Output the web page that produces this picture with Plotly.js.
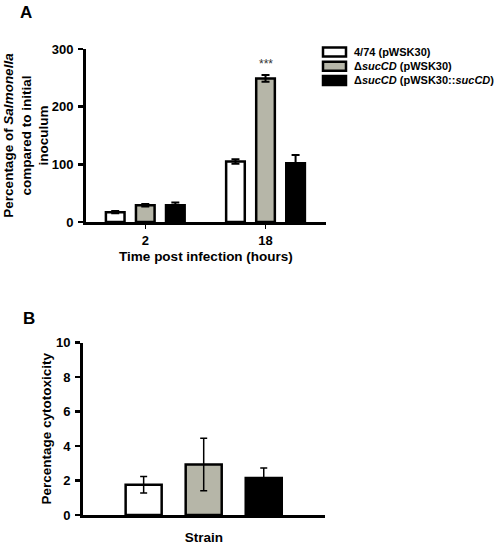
<!DOCTYPE html>
<html><head><meta charset="utf-8">
<script src="https://cdn.plot.ly/plotly-3.0.1.min.js"></script>
<style>html,body{margin:0;padding:0;background:#fff}#chart{width:498px;height:545px}</style>
</head><body><div id="chart"></div>
<script>
// Panel A data
const timePoints = ['2', '18'];
const strainNames = ['4/74 (pWSK30)', 'Δ<i>sucCD</i> (pWSK30)', 'Δ<i>sucCD</i> (pWSK30::<i>sucCD</i>)'];
const strainColors = ['#ffffff', '#b6b6a8', '#000000'];
const wtValues = [17, 105];
const wtErrors = [2, 4];
const mutValues = [29, 249];
const mutErrors = [2, 6];
const compValues = [29, 102];
const compErrors = [5, 14];
// Panel B data
const cytoValues = [1.76, 2.93, 2.15];
const cytoErrors = [0.48, 1.52, 0.58];

const FONT = 'Liberation Sans, Arial, sans-serif';
const seriesA = [[wtValues, wtErrors], [mutValues, mutErrors], [compValues, compErrors]];

const traces = seriesA.map((s, i) => ({
  type: 'bar', x: timePoints, y: s[0], name: strainNames[i],
  xaxis: 'x', yaxis: 'y', showlegend: false,
  marker: {color: strainColors[i], line: {color: '#000', width: 2.5}},
  error_y: {type: 'data', array: s[1], visible: true, color: '#000', thickness: 2, width: 4}
}));

traces.push({
  type: 'bar', x: strainNames, y: cytoValues, xaxis: 'x2', yaxis: 'y2',
  showlegend: false, width: 0.6,
  marker: {color: strainColors, line: {color: '#000', width: 2.5}},
  error_y: {type: 'data', array: cytoErrors, visible: true, color: '#000', thickness: 1.5, width: 3.5}
});

const W = 498, H = 545;
const axCommon = {
  showline: true, linecolor: '#000', linewidth: 3, showgrid: false, zeroline: false,
  ticks: 'outside', tickcolor: '#000', automargin: false,
  tickfont: {family: FONT, size: 13, color: '#000', weight: 'bold'}
};
const titleFont = {family: FONT, size: 13.5, color: '#000', weight: 'bold'};

// Legend (key swatches + labels, built from the strain arrays)
const legShapes = [], legAnn = [];
strainNames.forEach((nm, i) => {
  const yc = 52 + i * 14.2;
  legShapes.push({type: 'rect', xref: 'paper', yref: 'paper',
    x0: 323 / W, x1: 346 / W, y0: 1 - (yc + 4.5) / H, y1: 1 - (yc - 4.5) / H,
    fillcolor: strainColors[i], line: {color: '#000', width: 2.5}});
  legAnn.push({text: nm, xref: 'paper', yref: 'paper', x: 352 / W, y: 1 - yc / H,
    xanchor: 'left', yanchor: 'middle', showarrow: false,
    font: {family: FONT, size: 11, color: '#000', weight: 'bold'}});
});

const layout = {
  width: W, height: H,
  margin: {l: 0, r: 0, t: 0, b: 0},
  paper_bgcolor: '#fff', plot_bgcolor: '#fff',
  barmode: 'group', bargap: 0.25, bargroupgap: 0.38,
  font: {family: FONT, color: '#000'},
  showlegend: false,
  xaxis: Object.assign({}, axCommon, {
    domain: [86 / W, 326 / W], range: [-0.493, 1.503], type: 'category',
    ticklen: 4, tickwidth: 1, anchor: 'y',
    title: {text: 'Time post infection (hours)', font: titleFont, standoff: 5}
  }),
  yaxis: Object.assign({}, axCommon, {
    domain: [1 - 222 / H, 1 - 49 / H], range: [0, 300], tickvals: [0, 100, 200, 300],
    ticklen: 5, tickwidth: 2.5, anchor: 'x', ticklabelstandoff: 2,
    title: {text: 'Percentage of <i>Salmonella</i><br>compared to initial<br>inoculum', font: titleFont, standoff: 0}
  }),
  xaxis2: Object.assign({}, axCommon, {
    domain: [83 / W, 325 / W], range: [-1.01, 3.02], type: 'category',
    ticks: '', showticklabels: false, anchor: 'y2',
    title: {text: 'Strain', font: titleFont, standoff: 18}
  }),
  yaxis2: Object.assign({}, axCommon, {
    domain: [1 - 515 / H, 1 - 342.7 / H], range: [0, 10], tickvals: [0, 2, 4, 6, 8, 10],
    ticklen: 5, tickwidth: 2.5, anchor: 'x2', ticklabelstandoff: 2,
    title: {text: 'Percentage cytotoxicity', font: titleFont, standoff: 2}
  }),
  shapes: legShapes,
  annotations: [
    {text: '<b>A</b>', xref: 'paper', yref: 'paper', x: 26 / W, y: 1 - 13 / H, showarrow: false,
     xanchor: 'center', yanchor: 'middle', font: {family: FONT, size: 17, color: '#000'}},
    {text: '<b>B</b>', xref: 'paper', yref: 'paper', x: 29 / W, y: 1 - 318 / H, showarrow: false,
     xanchor: 'center', yanchor: 'middle', font: {family: FONT, size: 17, color: '#000'}},
    {text: '***', xref: 'x', yref: 'y', x: timePoints.indexOf('18'), y: 258, yanchor: 'bottom', xanchor: 'center',
     showarrow: false, font: {family: FONT, size: 12, color: '#333'}}
  ].concat(legAnn)
};

Plotly.newPlot('chart', traces, layout, {displayModeBar: false, staticPlot: true});
</script></body></html>
